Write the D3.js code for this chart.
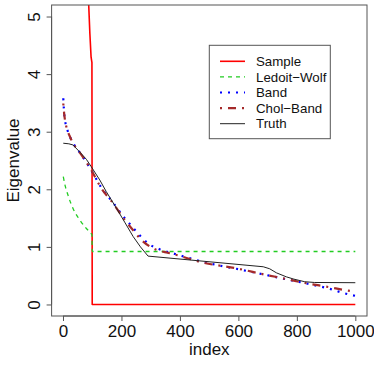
<!DOCTYPE html>
<html><head><meta charset="utf-8">
<script src="https://cdn.jsdelivr.net/npm/d3@7"></script>
<style>html,body{margin:0;padding:0;background:#fff;}svg{display:block;font-family:"Liberation Sans",Arial,sans-serif;}</style>
</head><body>
<script>
// ---- data ----
const xTicks = [0, 200, 400, 600, 800, 1000];
const yTicks = [0, 1, 2, 3, 4, 5];
const seriesNames = ["Sample", "Ledoit\u2212Wolf", "Band", "Chol\u2212Band", "Truth"];

const sampleIdx = [1, 10, 34, 57, 80, 88, 92, 96, 99, 100, 1000];
const sampleVal = [19.3, 15.0, 11.1, 8.1, 6.0, 5.2, 4.7, 4.3, 4.2, 0, 0];

const lwIdx = [1, 8, 17, 34, 57, 80, 95, 99, 100, 1000];
const lwVal = [2.22, 2.05, 1.90, 1.67, 1.47, 1.32, 1.24, 1.21, 0.92, 0.92];

const bandIdx = [1, 3, 6, 10, 17, 25, 34, 45, 60, 97, 131, 171, 211, 240, 268, 291, 330, 388, 513, 593, 650, 752, 855, 907, 958, 1000];
const bandVal = [3.58, 3.40, 3.22, 3.12, 3.00, 2.90, 2.81, 2.72, 2.62, 2.33, 2.03, 1.77, 1.50, 1.33, 1.17, 1.06, 0.96, 0.87, 0.70, 0.62, 0.56, 0.45, 0.34, 0.28, 0.20, 0.15];

const cholIdx = [1, 5, 10, 17, 25, 34, 45, 60, 97, 131, 171, 211, 240, 268, 308, 365, 388, 479, 593, 696, 752, 833, 901, 975, 1000];
const cholVal = [3.49, 3.27, 3.12, 3.00, 2.90, 2.80, 2.72, 2.62, 2.33, 2.02, 1.76, 1.47, 1.29, 1.12, 0.976, 0.89, 0.86, 0.726, 0.628, 0.512, 0.455, 0.368, 0.31, 0.24, 0.22];

const truthIdx = [1, 20, 34, 57, 80, 97, 126, 148, 183, 211, 240, 265, 291, 685, 707, 730, 764, 790, 827, 860, 1000];
const truthVal = [2.80, 2.79, 2.77, 2.65, 2.52, 2.39, 2.16, 1.96, 1.67, 1.43, 1.18, 1.00, 0.84, 0.655, 0.62, 0.55, 0.48, 0.44, 0.395, 0.382, 0.378];

// ---- layout ----
const W = 374, H = 374;
const box = {left: 51.6, right: 367, top: 5, bottom: 316};
const FONT = "'Liberation Sans', Arial, sans-serif";

const svg = d3.select("body").append("svg").attr("width", W).attr("height", H);

const x = d3.scaleLinear().domain([1 - 0.04 * 999, 1000 + 0.04 * 999]).range([box.left, box.right]);
const y = d3.scaleLinear().domain([-0.2, 5.2]).range([box.bottom, box.top]);

svg.append("clipPath").attr("id", "clip").append("rect")
  .attr("x", box.left).attr("y", box.top)
  .attr("width", box.right - box.left).attr("height", box.bottom - box.top);

const zip = (a, b) => a.map((d, i) => [d, b[i]]);
const lineLin = d3.line().x(d => x(d[0])).y(d => y(d[1]));
const lineSmooth = d3.line().x(d => x(d[0])).y(d => y(d[1])).curve(d3.curveMonotoneX);

const series = [
  {name: seriesNames[0], data: zip(sampleIdx, sampleVal), color: "#ff0000", width: 1.6, dash: null, gen: lineLin},
  {name: seriesNames[1], data: zip(lwIdx, lwVal), color: "#22cc22", width: 1.3, dash: "4,4", gen: lineSmooth},
  {name: seriesNames[2], data: zip(bandIdx, bandVal), color: "#0000ff", width: 2.2, dash: "2,6", gen: lineSmooth},
  {name: seriesNames[3], data: zip(cholIdx, cholVal), color: "#a52a2a", width: 2.2, dash: "2,6,8,6", gen: lineSmooth},
  {name: seriesNames[4], data: zip(truthIdx, truthVal), color: "#222222", width: 1, dash: null, gen: lineLin}
];

const g = svg.append("g").attr("clip-path", "url(#clip)");
series.forEach(s => {
  g.append("path").attr("d", s.gen(s.data))
    .attr("fill", "none").attr("stroke", s.color)
    .attr("stroke-width", s.width)
    .attr("stroke-dasharray", s.dash)
    .attr("stroke-linejoin", "round");
});

// box
svg.append("rect").attr("x", box.left).attr("y", box.top)
  .attr("width", box.right - box.left).attr("height", box.bottom - box.top)
  .attr("fill", "none").attr("stroke", "#555").attr("stroke-width", 1);

// x axis
const xAxis = d3.axisBottom(x).tickValues(xTicks).tickSize(5).tickPadding(4).tickFormat(d3.format("d"));
const gx = svg.append("g").attr("transform", `translate(0,${box.bottom})`).call(xAxis);
gx.select(".domain").attr("d", `M${x(0)},0H${x(1000)}`).attr("stroke", "#555");
gx.selectAll(".tick line").attr("stroke", "#555");
gx.selectAll(".tick text").attr("font-size", 17).attr("fill", "#111").attr("font-family", FONT);

// y axis
const yAxis = d3.axisLeft(y).tickValues(yTicks).tickSize(5).tickPadding(6).tickFormat(d3.format("d"));
const gy = svg.append("g").attr("transform", `translate(${box.left},0)`).call(yAxis);
gy.select(".domain").attr("d", `M0,${y(0)}V${y(5)}`).attr("stroke", "#555");
gy.selectAll(".tick line").attr("stroke", "#555");
gy.selectAll(".tick text")
  .attr("font-size", 17).attr("fill", "#111").attr("font-family", FONT)
  .attr("x", null).attr("dy", null)
  .attr("text-anchor", "middle")
  .attr("transform", "translate(-11.5,0) rotate(-90)");

// axis titles
svg.append("text").attr("x", (box.left + box.right) / 2).attr("y", 355)
  .attr("text-anchor", "middle").attr("font-size", 17).attr("fill", "#111").text("index");
svg.append("text").attr("transform", `translate(19,${(box.top + box.bottom) / 2}) rotate(-90)`)
  .attr("text-anchor", "middle").attr("font-size", 17).attr("fill", "#111").text("Eigenvalue");

// legend
const lg = svg.append("g");
lg.append("rect").attr("x", 209.3).attr("y", 45.3).attr("width", 121).attr("height", 93.4)
  .attr("fill", "#fff").attr("stroke", "#555").attr("stroke-width", 1);
series.forEach((s, i) => {
  const yy = 61.3 + i * 15.6;
  lg.append("line").attr("x1", 220).attr("x2", 245).attr("y1", yy).attr("y2", yy)
    .attr("stroke", s.color).attr("stroke-width", s.width).attr("stroke-dasharray", s.dash);
  lg.append("text").attr("x", 256).attr("y", yy + 4.7).attr("font-size", 13.3)
    .attr("fill", "#111").text(s.name);
});
</script>
</body></html>
